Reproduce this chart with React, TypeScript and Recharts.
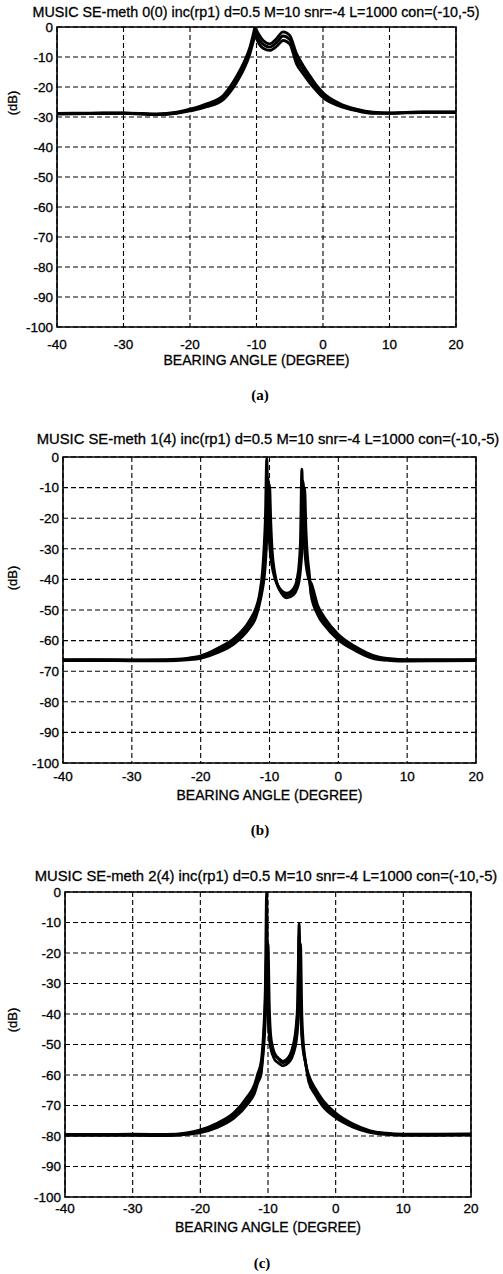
import { LineChart, Line, XAxis, YAxis, CartesianGrid, ReferenceArea } from 'recharts'

const ANGLE_TICKS = [-40, -30, -20, -10, 0, 10, 20]
const DB_TICKS = [0, -10, -20, -30, -40, -50, -60, -70, -80, -90, -100]

const TITLE_A = 'MUSIC SE-meth 0(0) inc(rp1) d=0.5 M=10 snr=-4 L=1000 con=(-10,-5)'
const TITLE_B = 'MUSIC SE-meth 1(4) inc(rp1) d=0.5 M=10 snr=-4 L=1000 con=(-10,-5)'
const TITLE_C = 'MUSIC SE-meth 2(4) inc(rp1) d=0.5 M=10 snr=-4 L=1000 con=(-10,-5)'
const X_LABEL = 'BEARING ANGLE (DEGREE)'
const Y_LABEL = '(dB)'

// panel (a): meth 0(0)
const anglesA = [-40, -35, -30, -25, -22, -20, -17.5, -15, -13, -12, -11, -10.5, -10.2, -10, -9.5, -9, -8, -7, -6, -5, -4, -3, -2, -1, 0, 2.5, 5, 7.5, 10, 15, 20]
const traceA1 = [-28.8, -28.7, -28.6, -29.0, -28.4, -27.4, -25.6, -22.8, -16.5, -12.3, -6.8, -2.5, 0, -1.0, -3.0, -4.5, -5.6, -3.9, -1.6, -2.8, -8.8, -12.8, -16.2, -19.4, -21.9, -25.5, -27.4, -28.4, -28.6, -28.3, -28.3]
const traceA2 = [-28.9, -28.8, -28.7, -29.1, -28.6, -27.7, -26.1, -23.5, -17.5, -13.4, -7.9, -3.8, -1.2, -2.5, -4.5, -5.8, -6.7, -5.2, -3.0, -4.2, -10.5, -14.2, -17.4, -20.3, -22.7, -26.0, -27.6, -28.6, -28.7, -28.4, -28.4]
const traceA3 = [-29.0, -28.9, -28.8, -29.2, -28.8, -28.0, -26.6, -24.2, -18.5, -14.5, -9.0, -5.0, -2.5, -3.8, -6.0, -7.1, -7.8, -6.5, -4.5, -5.7, -12.2, -15.6, -18.6, -21.2, -23.5, -26.4, -27.9, -28.8, -28.8, -28.5, -28.5]

// panel (b): meth 1(4)
const anglesB = [-40, -35, -30, -25, -22, -20, -17.5, -15, -13, -12, -11.5, -11, -10.8, -10.6, -10.4, -10.2, -10, -9.8, -9.6, -9.3, -9, -8.5, -7.5, -6.5, -6, -5.7, -5.5, -5.3, -5.1, -4.9, -4.7, -4.5, -4.2, -4, -3, -2, 0, 2.5, 5, 7.5, 10, 15, 20]
const traceB1 = [-66.2, -66.2, -66.3, -66.2, -65.8, -65.0, -62.5, -59.0, -53.8, -49.5, -45.5, -37, -30, -20, -0.5, -18, -28, -33, -36, -39, -41, -43, -44.5, -43, -40, -35, -27, -4, -22, -30, -35, -38, -40.5, -41, -48.5, -52.5, -58, -62, -64.8, -65.9, -66.2, -66.2, -66.2]
const traceB2 = [-66.4, -66.3, -66.4, -66.4, -66.0, -65.4, -63.2, -59.9, -55.0, -51.0, -47.0, -40, -36, -29, -18, -7, -20, -29, -34, -38, -41, -43.5, -45.2, -44, -41.5, -38, -33, -22, -8, -22, -31, -36, -40.5, -43, -50, -53.8, -58.9, -62.6, -65.3, -66.2, -66.4, -66.4, -66.3]
const traceB3 = [-66.5, -66.5, -66.6, -66.6, -66.3, -65.8, -63.9, -60.8, -56.2, -52.5, -48.5, -43, -40, -35, -27, -17, -9, -22, -31, -37, -40.5, -43.5, -46, -45, -43, -40.5, -37, -31, -20, -10, -24, -32, -38.5, -44.5, -51.5, -55, -59.8, -63.3, -65.8, -66.5, -66.7, -66.6, -66.5]

// panel (c): meth 2(4)
const anglesC = [-40, -35, -30, -25, -22, -20, -17.5, -15, -13, -12, -11.5, -11, -10.8, -10.6, -10.4, -10.2, -10, -9.8, -9.6, -9.3, -9, -8.5, -7.8, -7, -6.5, -6, -5.8, -5.6, -5.4, -5.2, -5, -4.8, -4.5, -4.2, -4, -3, -2, 0, 2.5, 5, 7.5, 10, 15, 20]
const traceC1 = [-79.5, -79.5, -79.4, -79.5, -79.0, -78.0, -75.8, -72.3, -67.0, -63.2, -59.5, -55.5, -51, -44, -32, 0, -38, -47, -50.5, -52.5, -53.5, -54.5, -55.5, -54.3, -52, -47, -43, -35, -10.4, -36, -47, -52, -55.5, -58.5, -60, -64.5, -68, -72.5, -76, -78.2, -79.1, -79.4, -79.4, -79.3]
const traceC2 = [-79.6, -79.6, -79.6, -79.7, -79.2, -78.5, -76.5, -73.2, -68.3, -64.5, -61, -58, -55, -50, -42, -30, -17, -38, -47, -51, -53, -54.5, -56, -55, -53, -48.5, -45, -38, -14, -35, -46, -51, -55.5, -59, -61, -65.5, -69, -73.2, -76.5, -78.5, -79.3, -79.6, -79.6, -79.5]
const traceC3 = [-79.8, -79.8, -79.8, -79.9, -79.5, -78.9, -77.2, -74.1, -69.5, -66.0, -62.5, -59.5, -54, -47, -36, -20, -38, -47, -51, -53.5, -55, -56, -57, -56, -54.5, -51, -48.5, -44, -34, -17, -40, -49, -55, -59.5, -62, -66.5, -70, -74, -77, -78.8, -79.5, -79.8, -79.8, -79.7]

const FONT = '"Liberation Sans", Arial, sans-serif'

function rows(angles: number[], r1: number[], r2: number[], r3: number[]) {
  return angles.map((angle, i) => ({ angle, r1: r1[i], r2: r2[i], r3: r3[i] }))
}

interface PanelProps {
  top: number
  data: { angle: number; r1: number; r2: number; r3: number }[]
  margin: { top: number; right: number; bottom: number; left: number }
  tickGap: number
  labelOffset: number
}

function Panel({ top, data, margin, tickGap, labelOffset }: PanelProps) {
  const tick = { fill: '#000', fontSize: 13.5, fontFamily: FONT, stroke: '#000', strokeWidth: 0.3 }
  return (
    <div style={{ position: 'absolute', left: 0, top }}>
      <LineChart width={503} height={400} data={data} margin={margin}>
        <CartesianGrid stroke="#000" strokeDasharray="5 3" strokeWidth={1.1} />
        <XAxis
          dataKey="angle"
          type="number"
          domain={[-40, 20]}
          ticks={ANGLE_TICKS}
          interval={0}
          allowDataOverflow
          height={40}
          tickLine={false}
          axisLine={false}
          tickSize={0}
          tickMargin={tickGap}
          tick={tick}
          label={{ value: X_LABEL, position: 'insideBottom', offset: labelOffset, fill: '#000', stroke: '#000', strokeWidth: 0.3, fontSize: 14, fontFamily: FONT }}
        />
        <YAxis
          type="number"
          domain={[-100, 0]}
          ticks={DB_TICKS}
          interval={0}
          allowDataOverflow
          width={50}
          tickLine={false}
          axisLine={false}
          tickSize={0}
          tickMargin={4}
          tick={tick}
        />
        {['r1', 'r2', 'r3'].map((k) => (
          <Line key={k} dataKey={k} type="monotone" stroke="#000" strokeWidth={2.8} dot={false} isAnimationActive={false} />
        ))}
        <ReferenceArea x1={-40} x2={20} y1={-100} y2={0} fill="none" stroke="#000" strokeWidth={1.6} />
      </LineChart>
    </div>
  )
}

function Caption({ x, y, text, size, serif, bold, rotate }: { x: number; y: number; text: string; size: number; serif?: boolean; bold?: boolean; rotate?: boolean }) {
  return (
    <div
      style={{
        position: 'absolute',
        left: x,
        top: y,
        transform: `translate(-50%, -50%)${rotate ? ' rotate(-90deg)' : ''}`,
        whiteSpace: 'nowrap',
        lineHeight: 1,
        fontSize: size,
        fontFamily: serif ? '"Liberation Serif", "Times New Roman", serif' : FONT,
        fontWeight: bold ? 700 : 400,
        WebkitTextStroke: serif ? undefined : '0.3px #000',
        color: '#000',
      }}
    >
      {text}
    </div>
  )
}

export default function App() {
  return (
    <div style={{ position: 'absolute', left: 0, top: 0, width: 503, height: 1274, background: '#fff', overflow: 'hidden' }}>
      <Panel top={0} data={rows(anglesA, traceA1, traceA2, traceA3)} margin={{ top: 27, right: 47, bottom: 33, left: 7 }} tickGap={12} labelOffset={2} />
      <Panel top={420} data={rows(anglesB, traceB1, traceB2, traceB3)} margin={{ top: 37, right: 27, bottom: 17, left: 13 }} tickGap={8} labelOffset={3} />
      <Panel top={850} data={rows(anglesC, traceC1, traceC2, traceC3)} margin={{ top: 42, right: 32, bottom: 13, left: 15 }} tickGap={6} labelOffset={5} />

      <Caption x={256} y={12} text={TITLE_A} size={14.3} />
      <Caption x={268} y={439} text={TITLE_B} size={14.8} />
      <Caption x={266} y={876} text={TITLE_C} size={14.8} />

      <Caption x={12} y={103} text={Y_LABEL} size={13} rotate />
      <Caption x={12} y={578} text={Y_LABEL} size={13} rotate />
      <Caption x={12} y={1020} text={Y_LABEL} size={13} rotate />

      <Caption x={260} y={395} text="(a)" size={15} serif bold />
      <Caption x={260} y={830} text="(b)" size={15} serif bold />
      <Caption x={262} y={1263} text="(c)" size={15} serif bold />
    </div>
  )
}
